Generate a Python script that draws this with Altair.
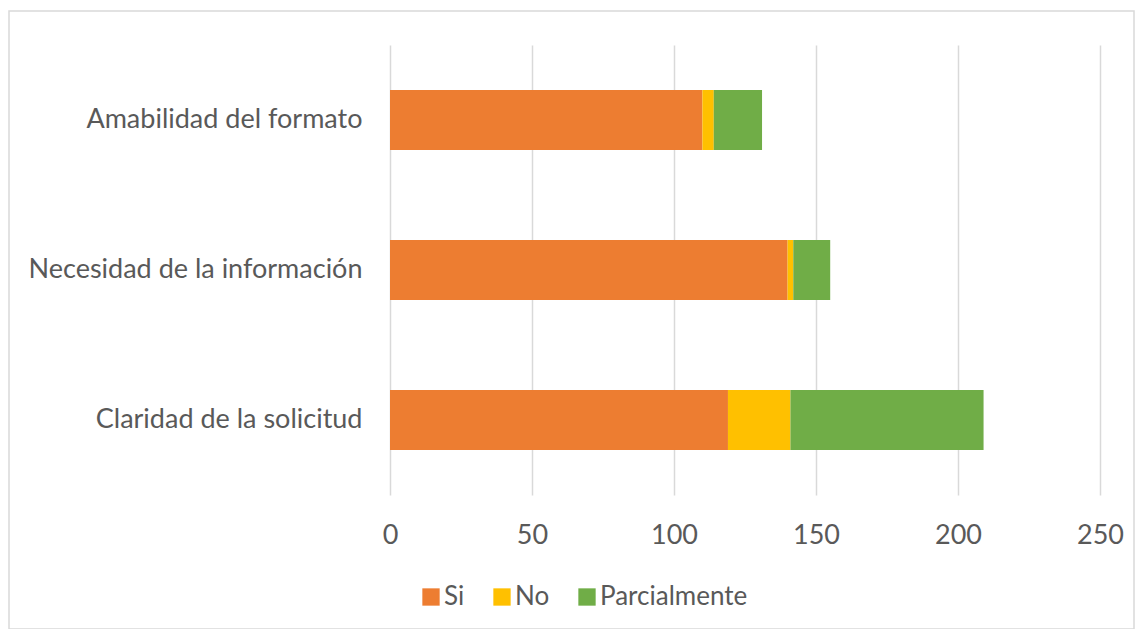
import altair as alt
import pandas as pd

categories = ["Amabilidad del formato", "Necesidad de la información", "Claridad de la solicitud"]
series = ["Si", "No", "Parcialmente"]
si_vals = [110, 140, 119]
no_vals = [4, 2, 22]
parcial_vals = [17, 13, 68]
colors = ["#ED7D31", "#FFC000", "#70AD47"]
x_ticks = [0, 50, 100, 150, 200, 250]

rows = []
for i, c in enumerate(categories):
    for j, (s, vals) in enumerate(zip(series, [si_vals, no_vals, parcial_vals])):
        rows.append({"cat": c, "serie": s, "val": vals[i], "ord": j})
df = pd.DataFrame(rows)

FONT = "Lato"
TXT = "#595959"
FS = 27

bars = alt.Chart(df).mark_bar(size=60).encode(
    y=alt.Y("cat:N", sort=categories, title=None,
            scale=alt.Scale(paddingInner=0.6, paddingOuter=0.3),
            axis=alt.Axis(domain=False, ticks=False, labelFontSize=FS, labelColor=TXT,
                          labelFont=FONT, labelPadding=28, labelLimit=500)),
    x=alt.X("val:Q", title=None, stack="zero",
            scale=alt.Scale(domain=[0, 250], nice=False),
            axis=alt.Axis(values=x_ticks, domain=False, ticks=False, grid=True,
                          gridColor="#D9D9D9", gridWidth=1.5, labelFlush=False,
                          labelFontSize=FS, labelColor=TXT, labelFont=FONT,
                          labelPadding=27)),
    color=alt.Color("serie:N", sort=series,
                    scale=alt.Scale(domain=series, range=colors),
                    legend=alt.Legend(title=None, orient="none", direction="horizontal",
                                      legendX=28, legendY=539, symbolType="square",
                                      symbolSize=300, symbolStrokeWidth=0,
                                      labelFontSize=26, labelColor=TXT, labelFont=FONT,
                                      columnPadding=24, labelOffset=0)),
    order=alt.Order("ord:Q"),
)

frame = alt.Chart(pd.DataFrame({"a": [0]})).mark_rect(
    fill=None, stroke="#D9D9D9", strokeWidth=1.5
).encode(
    x=alt.value(-381), x2=alt.value(744),
    y=alt.value(-34), y2=alt.value(584),
)

chart = alt.layer(frame, bars).properties(
    width=710, height=450, background="white",
    autosize=alt.AutoSizeParams(type="none"),
    padding={"left": 382, "top": 37, "right": 35, "bottom": 134},
).configure_view(strokeWidth=0, stroke="transparent")

chart.save("out.html", embed_options={"renderer": "svg", "actions": False})
